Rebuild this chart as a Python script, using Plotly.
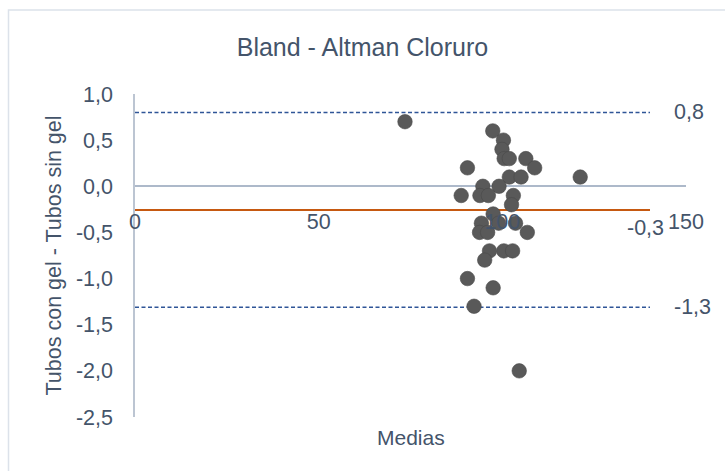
import plotly.graph_objects as go

# Bland-Altman data: mean of both tubes (x) and difference gel - no gel (y)
medias = [73.5, 97.4, 100.3, 99.9, 100.5, 101.9, 106.4, 108.8, 90.5, 121.2,
          101.9, 105.1, 94.7, 99.1, 88.8, 93.9, 96.2, 103.0, 102.5, 97.5,
          94.3, 99.0, 103.6, 106.8, 93.8, 96.0, 96.5, 100.4, 102.8, 95.2,
          90.5, 97.5, 92.3, 104.6]
diferencias = [0.7, 0.6, 0.5, 0.4, 0.3, 0.3, 0.3, 0.2, 0.2, 0.1,
               0.1, 0.1, 0.0, 0.0, -0.1, -0.1, -0.1, -0.1, -0.2, -0.3,
               -0.4, -0.4, -0.4, -0.5, -0.5, -0.5, -0.7, -0.7, -0.7, -0.8,
               -1.0, -1.1, -1.3, -2.0]

# Mean difference and limits of agreement
media_dif = -0.256
lim_sup = 0.80
lim_inf = -1.31
linea_x = [0, 140.2]

x_ticks = [0, 50, 100, 150]
y_ticks = [1.0, 0.5, 0.0, -0.5, -1.0, -1.5, -2.0, -2.5]

W, H = 725, 471
L, R, T, B = 135, 39, 94, 54
PW, PH = W - L - R, H - T - B


def px(xp):
    return (xp - L) / PW


def py(yp):
    return (H - B - yp) / PH


def fmt(v):
    # one decimal, comma separator, plain hyphen for negatives
    return f"{v:.1f}".replace(".", ",")


TXT = "#44546A"
FONT = "Liberation Sans, Arial, sans-serif"
FS = 21.5

fig = go.Figure()

fig.add_trace(go.Scatter(x=linea_x, y=[lim_sup, lim_sup], mode="lines",
                         line=dict(color="#2F5597", width=1.6, dash="4px,2.5px"),
                         hoverinfo="skip"))
fig.add_trace(go.Scatter(x=linea_x, y=[lim_inf, lim_inf], mode="lines",
                         line=dict(color="#2F5597", width=1.6, dash="4px,2.5px"),
                         hoverinfo="skip"))
fig.add_trace(go.Scatter(x=linea_x, y=[media_dif, media_dif], mode="lines",
                         line=dict(color="#C65911", width=2),
                         hoverinfo="skip"))
fig.add_trace(go.Scatter(x=medias, y=diferencias, mode="markers",
                         marker=dict(size=14.5, color="#595959",
                                     line=dict(color="#4A4A4A", width=0.6))))

fig.add_annotation(x=146.3, y=lim_sup, xref="x", yref="y", text=fmt(lim_sup),
                   showarrow=False, xanchor="left", yanchor="middle",
                   font=dict(size=FS, color=TXT, family=FONT))
fig.add_annotation(x=146.3, y=lim_inf, xref="x", yref="y", text=fmt(lim_inf),
                   showarrow=False, xanchor="left", yanchor="middle",
                   font=dict(size=FS, color=TXT, family=FONT))
fig.add_annotation(x=linea_x[1], y=media_dif, xref="x", yref="y", text=fmt(media_dif),
                   showarrow=False, xanchor="center", yanchor="middle",
                   xshift=-5, yshift=-18,
                   font=dict(size=FS, color=TXT, family=FONT))

# Axis titles
fig.add_annotation(x=px(410.5), y=py(437), xref="paper", yref="paper", text="Medias",
                   showarrow=False, xanchor="center", yanchor="middle",
                   font=dict(size=21, color=TXT, family=FONT))
fig.add_annotation(x=px(53), y=py(255.5), xref="paper", yref="paper",
                   text="Tubos con gel - Tubos sin gel", textangle=-90,
                   showarrow=False, xanchor="center", yanchor="middle",
                   font=dict(size=21.5, color=TXT, family=FONT))

# Chart frame
fig.add_shape(type="rect", xref="paper", yref="paper",
              x0=px(8.5), x1=px(740), y0=py(490), y1=py(10),
              line=dict(color="#DCE2EA", width=1.5), layer="below")

fig.update_layout(
    width=W, height=H,
    margin=dict(l=L, r=R, t=T, b=B),
    paper_bgcolor="white", plot_bgcolor="white",
    showlegend=False,
    title=dict(text="Bland - Altman Cloruro", x=0.5, xref="container",
               y=1 - 47 / H, yref="container", yanchor="middle", xanchor="center",
               font=dict(size=25, color=TXT, family=FONT)),
    xaxis=dict(range=[0, 150], tickvals=x_ticks, ticktext=[str(v) for v in x_ticks],
               showgrid=False, zeroline=False,
               showline=False, anchor="free", position=py(206),
               tickfont=dict(size=FS, color=TXT, family=FONT)),
    yaxis=dict(range=[-2.5, 1.0], tickvals=y_ticks, ticktext=[fmt(v) for v in y_ticks],
               showgrid=False, zeroline=True, zerolinecolor="#ADB9CA", zerolinewidth=1.5,
               showline=True, linecolor="#BCC5D2", linewidth=1.5,
               ticklabelstandoff=16,
               tickfont=dict(size=FS, color=TXT, family=FONT)),
)

fig.write_html("out.html")
